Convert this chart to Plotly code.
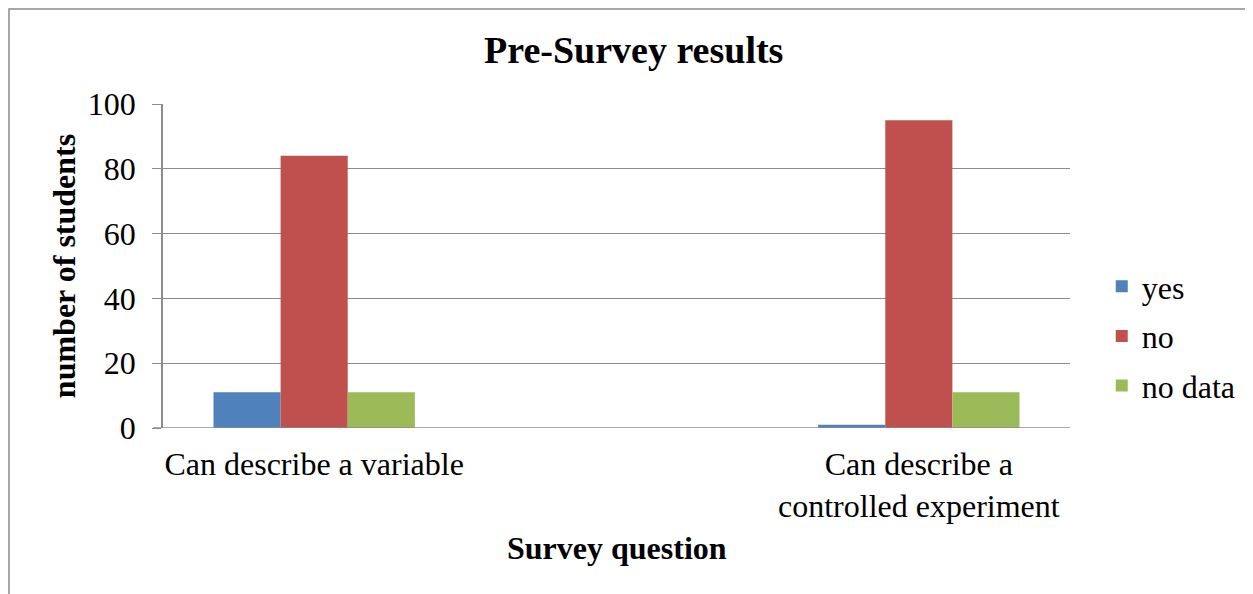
import plotly.graph_objects as go

categories = ["Can describe a variable", "Can describe a<br>controlled experiment"]
series_names = ["yes", "no", "no data"]
yes_vals = [11, 1]
no_vals = [84, 95]
nodata_vals = [11, 11]
colors = ["#4F81BD", "#C0504D", "#9BBB59"]
y_ticks = [0, 20, 40, 60, 80, 100]

x_pos = list(range(len(categories)))
font_family = "Liberation Serif, Times New Roman, serif"

fig = go.Figure()
for i, (name, vals) in enumerate(zip(series_names, [yes_vals, no_vals, nodata_vals])):
    fig.add_trace(go.Bar(x=x_pos, y=vals, name=name, marker_color=colors[i],
                         marker_line_width=0, legendgroup=name))

fig.update_layout(
    width=1245, height=586,
    paper_bgcolor="white", plot_bgcolor="white",
    barmode="group", bargap=0.667, bargroupgap=0,
    margin=dict(l=155, r=183, t=96, b=166),
    font=dict(family=font_family, size=32, color="black"),
    title=dict(text="<b>Pre-Survey results</b>", x=0.519, xref="paper", xanchor="center",
               y=0.928, yref="container", yanchor="middle",
               font=dict(size=38, family=font_family)),
    legend=dict(x=1.035, xanchor="left", y=0.284, yanchor="middle",
                font=dict(size=32), tracegroupgap=5, itemwidth=30),
    xaxis=dict(range=[-0.25, 1.25], tickvals=x_pos, ticktext=categories,
               showgrid=False, zeroline=False, showline=False, ticks="",
               ticklabelstandoff=14),
    yaxis=dict(range=[0, 100], tickvals=y_ticks, showgrid=True, gridcolor="#8c8c8c",
               gridwidth=1, zeroline=False, showline=True, linecolor="#8c8c8c",
               linewidth=1.5, ticks="outside", ticklen=9, tickcolor="#8c8c8c",
               ticklabelstandoff=10),
    annotations=[
        dict(text="<b>number of students</b>", xref="paper", yref="paper",
             x=-0.109, y=0.5, xanchor="center", yanchor="middle", textangle=-90,
             showarrow=False, font=dict(size=32, family=font_family)),
        dict(text="<b>Survey question</b>", xref="paper", yref="paper",
             x=0.5, y=-0.370, xanchor="center", yanchor="middle",
             showarrow=False, font=dict(size=32, family=font_family)),
    ],
    shapes=[
        dict(type="rect", xref="paper", yref="paper", x0=-0.1698, x1=1.4, y0=-0.7, y1=1.2932,
             line=dict(color="#8c8c8c", width=1.5), fillcolor="rgba(0,0,0,0)", layer="below"),
        dict(type="line", xref="paper", yref="y", x0=-0.011, x1=1.0, y0=0, y1=0,
             line=dict(color="#8c8c8c", width=1.5)),
    ],
)

fig.write_html("out.html")
